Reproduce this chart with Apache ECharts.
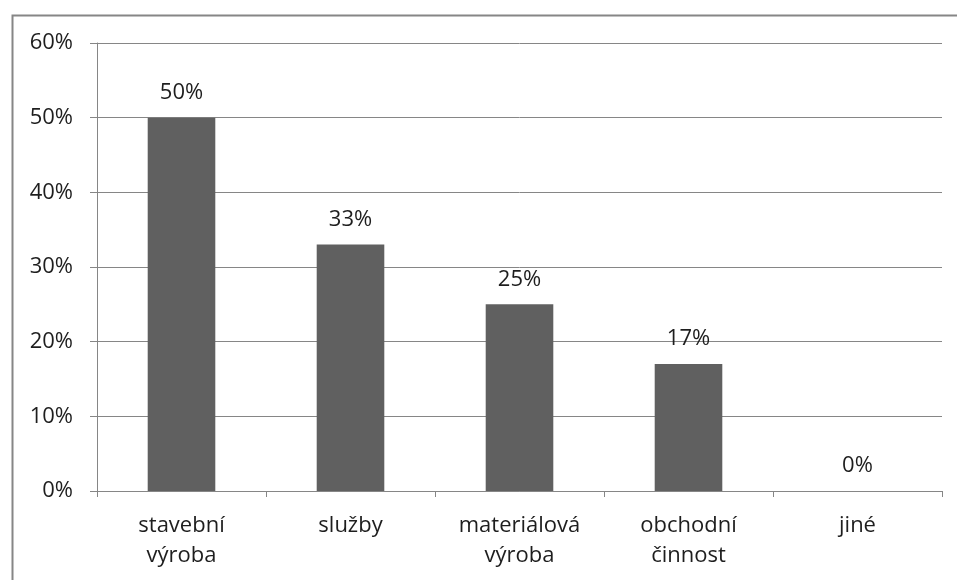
<!DOCTYPE html>
<html><head><meta charset="utf-8">
<script src="https://cdn.jsdelivr.net/npm/echarts@6/dist/echarts.min.js"></script>
<style>html,body{margin:0;padding:0;background:#fff}#c{width:957px;height:580px}</style>
</head><body><div id="c"></div>
<script>
const categories = ['stavební\nvýroba', 'služby', 'materiálová\nvýroba', 'obchodní\nčinnost', 'jiné'];
const values = [50, 33, 25, 17, 0];
const yTicks = [0, 10, 20, 30, 40, 50, 60];

const chart = echarts.init(document.getElementById('c'));
const font = '"Open Sans", sans-serif';
const txt = '#1e1e1e';
chart.setOption({
  animation: false,
  backgroundColor: '#fff',
  graphic: [{
    type: 'rect', left: 10, top: 13,
    shape: { x: 0, y: 0, width: 1000, height: 700 },
    style: { fill: 'none', stroke: '#868686', lineWidth: 2 }, z: -1
  }],
  grid: { left: 97, right: 15, top: 43, bottom: 89, containLabel: false },
  xAxis: {
    type: 'category', data: categories,
    axisLine: { lineStyle: { color: '#868686' } },
    axisTick: { show: true, length: 6, alignWithLabel: false, lineStyle: { color: '#868686' } },
    axisLabel: { color: txt, fontSize: 22, fontFamily: font, lineHeight: 30, margin: 20 }
  },
  yAxis: {
    type: 'value', min: yTicks[0], max: yTicks[yTicks.length - 1], interval: 10,
    axisLine: { show: true, lineStyle: { color: '#868686' } },
    axisTick: { show: true, length: 7, lineStyle: { color: '#868686' } },
    splitLine: { lineStyle: { color: '#868686' } },
    axisLabel: { color: txt, fontSize: 22, fontFamily: font, margin: 24, formatter: '{value}%' }
  },
  series: [{
    type: 'bar', data: values, barWidth: '40%',
    itemStyle: { color: '#606060' },
    label: { show: true, position: 'top', distance: 14, color: txt, fontSize: 22, fontFamily: font, formatter: '{c}%' }
  }]
});
</script></body></html>
